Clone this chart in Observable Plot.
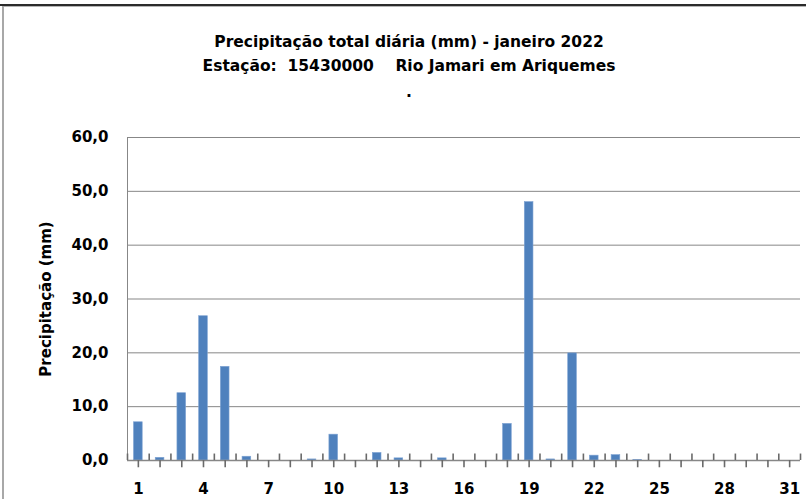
<!DOCTYPE html>
<html>
<head>
<meta charset="utf-8">
<script src="https://cdn.jsdelivr.net/npm/d3@7"></script>
<script src="https://cdn.jsdelivr.net/npm/@observablehq/plot@0.6"></script>
<style>
  body { margin: 0; background: #fff; }
  #wrap { position: relative; width: 806px; height: 499px; overflow: hidden; background: #fff;
          font-family: "DejaVu Sans", sans-serif; font-weight: bold; color: #000; }
  #head { position: relative; height: 110px; }
  .t { position: absolute; left: 6px; width: 806px; text-align: center; white-space: pre;
       font-size: 15.5px; line-height: 24px; }
  #topline { position: absolute; left: 0; top: 4px; width: 806px; height: 2px; background: #2b2b2b; }
  #topline2 { position: absolute; left: 2px; top: 6px; width: 804px; height: 1px; background: #b5b5b5; }
  #leftline { position: absolute; left: 2px; top: 6px; width: 2px; height: 493px; background: #a8a8a8; }
  #chart svg { display: block; }
</style>
</head>
<body>
<div id="wrap">
  <div id="head">
    <div class="t" style="top:30px">Precipitação total diária (mm) - janeiro 2022</div>
    <div class="t" style="top:54px">Estação:  15430000    Rio Jamari em Ariquemes</div>
    <div class="t" style="top:80px">.</div>
  </div>
  <div id="chart"></div>
  <div id="topline"></div>
  <div id="topline2"></div>
  <div id="leftline"></div>
</div>
<script>
// Days of January 2022
const days = [1, 2, 3, 4, 5, 6, 7, 8, 9, 10, 11, 12, 13, 14, 15, 16, 17, 18, 19, 20, 21, 22, 23, 24, 25, 26, 27, 28, 29, 30, 31];
// Daily total precipitation (mm)
const precip = [7.1, 0.5, 12.5, 26.8, 17.4, 0.7, 0, 0, 0.2, 4.8, 0, 1.4, 0.4, 0, 0.4, 0, 0, 6.8, 48.0, 0.2, 19.9, 0.9, 1.0, 0.1, 0, 0, 0, 0, 0, 0, 0];
// Axis tick labels
const xLabels = [1, 4, 7, 10, 13, 16, 19, 22, 25, 28, 31];
const yTicks = [0, 10, 20, 30, 40, 50, 60];
// Category boundaries (between days)
const boundaries = [0, ...days].map(d => d + 0.5);

const data = days.map((d, i) => ({day: d, value: precip[i]}));
const half = 0.2;
const grey = "#878787";
const tickGrey = "#6a6a6a";

const chart = Plot.plot({
  width: 806,
  height: 389,
  marginLeft: 127,
  marginRight: 6,
  marginTop: 27,
  marginBottom: 39,
  style: {fontFamily: "DejaVu Sans", fontWeight: "bold", fontSize: "15px", color: "#000", background: "transparent", overflow: "visible"},
  x: {type: "linear", domain: [0.5, 31.5]},
  y: {domain: [0, 60]},
  marks: [
    Plot.gridY(yTicks.filter(v => v > 0), {stroke: grey, strokeOpacity: 1, strokeWidth: 1}),
    Plot.rectY(data.filter(d => d.value > 0), {
      x1: d => d.day - half, x2: d => d.day + half, y1: 0, y2: "value",
      fill: "#4f81bd", stroke: "#7fa3d3", strokeWidth: 0.6
    }),
    Plot.ruleX([0.5], {y1: 0, y2: 60, stroke: grey}),
    Plot.ruleY([0], {stroke: grey, strokeWidth: 1.5}),
    Plot.ruleX(days, {y1: -1.35, y2: 0, stroke: tickGrey, strokeWidth: 1.6}),
    Plot.ruleX(boundaries, {y1: 0, y2: 1.2, stroke: tickGrey, strokeWidth: 1.6}),
    Plot.axisX({ticks: xLabels, tickSize: 0, tickPadding: 23, tickFormat: d => String(d), label: null, fontSize: 15}),
    Plot.axisY({ticks: yTicks, tickSize: 0, tickPadding: 19,
      tickFormat: v => v.toFixed(1).replace(".", ","),
      label: "Precipitação (mm)", labelAnchor: "center", labelArrow: "none", labelOffset: 87, fontSize: 15})
  ]
});
document.getElementById("chart").appendChild(chart);
</script>
</body>
</html>
